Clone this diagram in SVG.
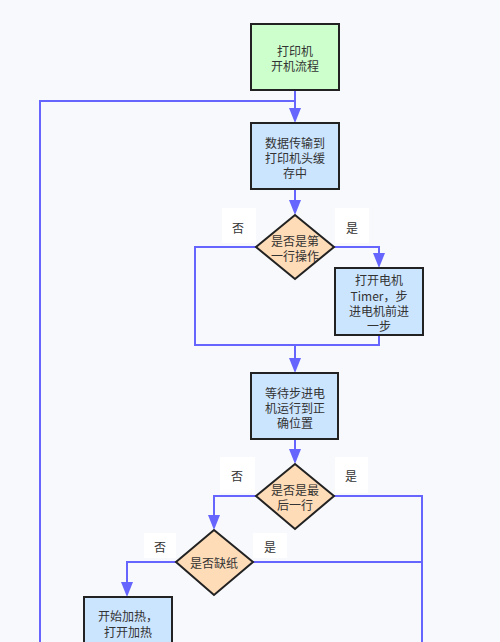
<svg xmlns="http://www.w3.org/2000/svg" width="500" height="642" viewBox="0 0 500 642">
<style>
text{font-family:"Noto Sans CJK SC","Noto Sans",sans-serif;font-size:12px;fill:#333;text-anchor:middle;dominant-baseline:central}
.box{fill:#cce5ff;stroke:#222;stroke-width:2}
.start{fill:#ccffcc;stroke:#222;stroke-width:2}
.dia{fill:#fedcb8;stroke:#222;stroke-width:2}
.lbl{fill:#ffffff;stroke:none}
.c{fill:none;stroke:#6666ff;stroke-width:2}
.ah{fill:#6666ff}
</style>
<rect width="500" height="642" fill="#f7f9fd"/>
<g id="connectors">
<path class="c" d="M295,90 V110"/>
<path class="c" d="M40,642 V101 H295"/>
<path class="c" d="M295,189 V203"/>
<path class="c" d="M334,247 H379 V256"/>
<path class="c" d="M256,247 H195 V345 H379 V335"/>
<path class="c" d="M295,345 V361"/>
<path class="c" d="M295,439 V452"/>
<path class="c" d="M256,496 H214 V518"/>
<path class="c" d="M334,496 H422 V642"/>
<path class="c" d="M253,562 H422"/>
<path class="c" d="M176,562 H127 V585"/>
<path class="ah" d="M289,108 L295,123 L301,108 z"/>
<path class="ah" d="M289,200 L295,215 L301,200 z"/>
<path class="ah" d="M373,253 L379,268 L385,253 z"/>
<path class="ah" d="M289,358 L295,373 L301,358 z"/>
<path class="ah" d="M289,449 L295,464 L301,449 z"/>
<path class="ah" d="M208,515 L214,530 L220,515 z"/>
<path class="ah" d="M121,582 L127,597 L133,582 z"/>
</g>
<g id="n1"><rect class="start" x="251" y="24" width="88" height="66"/><text x="295" y="50">打印机</text><text x="295" y="65">开机流程</text></g>
<g id="n2"><rect class="box" x="251" y="123" width="88" height="66"/><text x="295" y="142">数据传输到</text><text x="295" y="157">打印机头缓</text><text x="295" y="172">存中</text></g>
<g id="d1"><path class="dia" d="M295,215 L334,247 L295,279 L256,247 z"/><text x="295" y="240">是否是第</text><text x="295" y="255">一行操作</text></g>
<g id="l1"><rect class="lbl" x="222" y="208" width="34" height="35"/><text x="238" y="227">否</text></g>
<g id="l2"><rect class="lbl" x="335" y="208" width="34" height="35"/><text x="352" y="227">是</text></g>
<g id="n3"><rect class="box" x="335" y="268" width="88" height="67"/><text x="379" y="279">打开电机</text><text x="379" y="295">Timer，步</text><text x="379" y="310">进电机前进</text><text x="379" y="325">一步</text></g>
<g id="n4"><rect class="box" x="251" y="373" width="87" height="66"/><text x="295" y="392">等待步进电</text><text x="295" y="407">机运行到正</text><text x="295" y="422">确位置</text></g>
<g id="d2"><path class="dia" d="M295,464 L334,496 L295,529 L256,496 z"/><text x="295" y="489">是否是最</text><text x="295" y="504">后一行</text></g>
<g id="l3"><rect class="lbl" x="220" y="457" width="35" height="36"/><text x="237" y="475">否</text></g>
<g id="l4"><rect class="lbl" x="335" y="457" width="33" height="36"/><text x="351" y="475">是</text></g>
<g id="d3"><path class="dia" d="M214,530 L253,562 L214,595 L176,562 z"/><text x="214" y="562">是否缺纸</text></g>
<g id="l5"><rect class="lbl" x="144" y="533" width="32" height="25"/><text x="160" y="546">否</text></g>
<g id="l6"><rect class="lbl" x="253" y="533" width="34" height="25"/><text x="270" y="546">是</text></g>
<g id="n5"><rect class="box" x="84" y="597" width="88" height="70"/><text x="128" y="615">开始加热，</text><text x="128" y="631">打开加热</text><text x="128" y="647">丝，</text></g>
</svg>
